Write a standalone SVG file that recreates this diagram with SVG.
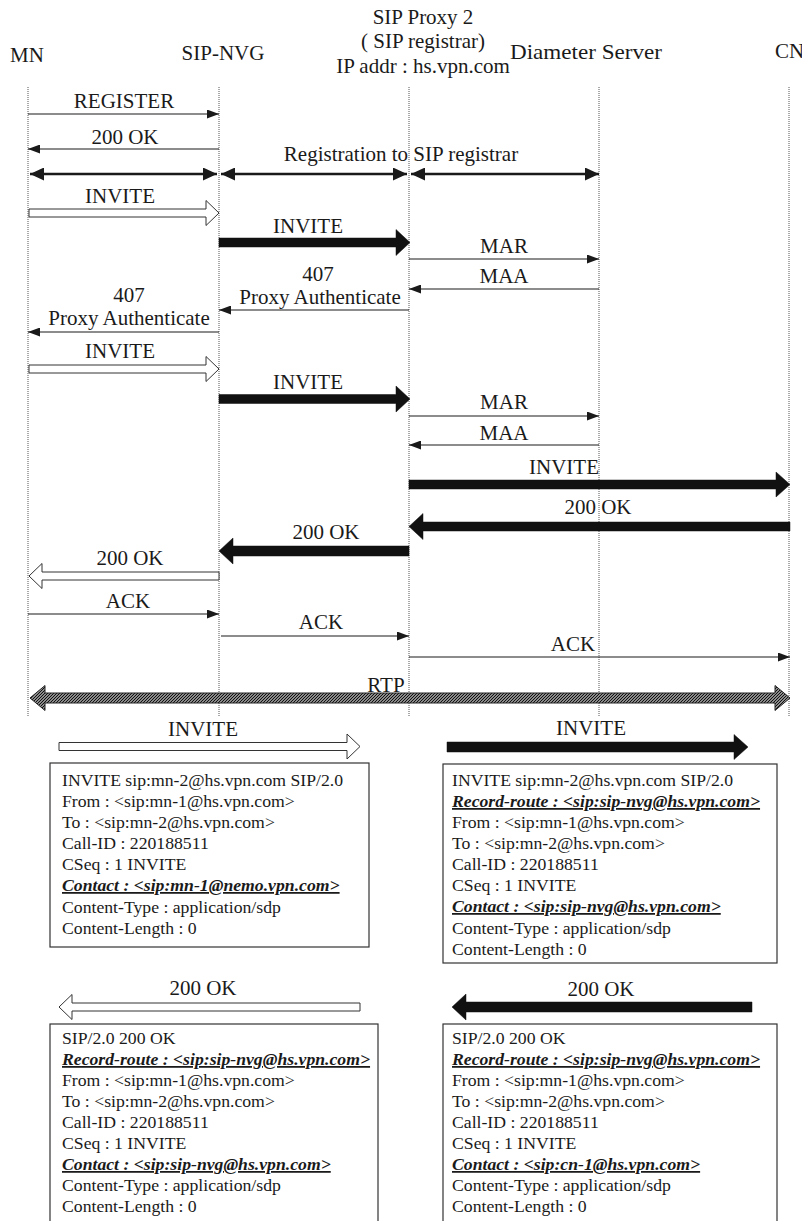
<svg xmlns="http://www.w3.org/2000/svg" width="802" height="1221" viewBox="0 0 802 1221">
  <defs>
    <style>
      text { font-family: "Liberation Serif", "Times New Roman", serif; fill: #1a1a1a; }
      .hdr { font-size: 21px; }
      .lbl { font-size: 21px; text-anchor: middle; }
      .box-t { font-size: 17.7px; }
      .emph { font-weight: bold; font-style: italic; text-decoration: underline; }
      .life { stroke: #555; stroke-width: 1; stroke-dasharray: 1 1; fill: none; }
      .thin { stroke: #1a1a1a; stroke-width: 1.2; fill: none; }
      .reg { stroke: #1a1a1a; stroke-width: 2.6; fill: none; }
      .hollow { fill: #fff; stroke: #333; stroke-width: 1; }
      .solid { fill: #111; stroke: #111; stroke-width: 0.5; }
      .frame { fill: #fff; stroke: #333; stroke-width: 1.2; }
    </style>
    <marker id="head-thin" markerUnits="userSpaceOnUse" markerWidth="12" markerHeight="9" refX="12" refY="4.5" orient="auto">
      <path d="M0,0 L12,4.5 L0,9 Z" fill="#1a1a1a"/>
    </marker>
    <marker id="head-reg" markerUnits="userSpaceOnUse" markerWidth="14" markerHeight="13" refX="14" refY="6.5" orient="auto-start-reverse">
      <path d="M0,0 L14,6.5 L0,13 Z" fill="#1a1a1a"/>
    </marker>
    <pattern id="hatch" patternUnits="userSpaceOnUse" width="3" height="3">
      <rect width="3" height="3" fill="#fff"/>
      <path d="M-1,1 L1,-1 M0,3 L3,0 M2,4 L4,2" stroke="#111" stroke-width="1.4"/>
    </pattern>
  </defs>

  <!-- participants -->
  <g id="mn"><text class="hdr" x="10" y="62">MN</text></g>
  <g id="sip-nvg"><text class="hdr" x="223" y="60" text-anchor="middle">SIP-NVG</text></g>
  <g id="sip-proxy">
    <text class="hdr" x="423" y="24" text-anchor="middle">SIP Proxy 2</text>
    <text class="hdr" x="423" y="48" text-anchor="middle">( SIP registrar)</text>
    <text class="hdr" x="423" y="73" text-anchor="middle">IP addr : hs.vpn.com</text>
  </g>
  <g id="diameter"><text class="hdr" x="510" y="59" textLength="152" lengthAdjust="spacingAndGlyphs">Diameter Server</text></g>
  <g id="cn"><text class="hdr" x="775" y="58">CN</text></g>

  <!-- lifelines -->
  <g id="lifelines">
    <line class="life" x1="28" y1="87" x2="28" y2="717"/>
    <line class="life" x1="219" y1="87" x2="219" y2="717"/>
    <line class="life" x1="409" y1="87" x2="409" y2="717"/>
    <line class="life" x1="599" y1="87" x2="599" y2="717"/>
    <line class="life" x1="789" y1="87" x2="789" y2="717"/>
  </g>

  <!-- message connectors -->
  <g id="connectors">
    <line class="thin" x1="28" y1="114" x2="219" y2="114" marker-end="url(#head-thin)"/>
    <line class="thin" x1="219" y1="149" x2="28" y2="149" marker-end="url(#head-thin)"/>

    <line class="reg" x1="30" y1="174" x2="217" y2="174" marker-start="url(#head-reg)" marker-end="url(#head-reg)"/>
    <line class="reg" x1="221" y1="174" x2="407" y2="174" marker-start="url(#head-reg)" marker-end="url(#head-reg)"/>
    <line class="reg" x1="411" y1="174" x2="599" y2="174" marker-start="url(#head-reg)" marker-end="url(#head-reg)"/>

    <polygon class="hollow" points="29,209 206,209 206,200.5 219,213 206,225.5 206,217 29,217"/>
    <polygon class="solid" points="219,238 396,238 396,229.5 410,242.5 396,255.5 396,247 219,247"/>

    <line class="thin" x1="409" y1="259" x2="599" y2="259" marker-end="url(#head-thin)"/>
    <line class="thin" x1="599" y1="289" x2="409" y2="289" marker-end="url(#head-thin)"/>
    <line class="thin" x1="409" y1="310" x2="219" y2="310" marker-end="url(#head-thin)"/>
    <line class="thin" x1="219" y1="332" x2="28" y2="332" marker-end="url(#head-thin)"/>

    <polygon class="hollow" points="29,365 206,365 206,356.5 219,369 206,381.5 206,373 29,373"/>
    <polygon class="solid" points="219,394.5 396,394.5 396,386 410,399 396,412 396,403.5 219,403.5"/>

    <line class="thin" x1="409" y1="416" x2="599" y2="416" marker-end="url(#head-thin)"/>
    <line class="thin" x1="599" y1="445" x2="409" y2="445" marker-end="url(#head-thin)"/>

    <polygon class="solid" points="409,480 776,480 776,472 790,484.5 776,497 776,489 409,489"/>
    <polygon class="solid" points="790,522 423,522 423,513.5 409,526.5 423,539.5 423,531 790,531"/>
    <polygon class="solid" points="409,546 233,546 233,538 219,551 233,564 233,556 409,556"/>
    <polygon class="hollow" points="219,572 42,572 42,563.5 29,576 42,588.5 42,580 219,580"/>

    <line class="thin" x1="28" y1="614" x2="219" y2="614" marker-end="url(#head-thin)"/>
    <line class="thin" x1="221" y1="636" x2="409" y2="636" marker-end="url(#head-thin)"/>
    <line class="thin" x1="409" y1="657" x2="790" y2="657" marker-end="url(#head-thin)"/>

    <polygon points="30,698 45,685.5 45,693 775,693 775,685.5 790,698 775,710.5 775,703 45,703 45,710.5" fill="url(#hatch)" stroke="#222" stroke-width="1"/>
  </g>

  <!-- message labels -->
  <g id="labels">
    <text class="lbl" x="124" y="108">REGISTER</text>
    <text class="lbl" x="125" y="144">200 OK</text>
    <text class="lbl" x="401" y="161">Registration to SIP registrar</text>
    <text class="lbl" x="120" y="203">INVITE</text>
    <text class="lbl" x="308" y="233">INVITE</text>
    <text class="lbl" x="504" y="253">MAR</text>
    <text class="lbl" x="504" y="283">MAA</text>
    <text class="lbl" x="318" y="281">407</text>
    <text class="lbl" x="320" y="304">Proxy Authenticate</text>
    <text class="lbl" x="129" y="302">407</text>
    <text class="lbl" x="129" y="325">Proxy Authenticate</text>
    <text class="lbl" x="120" y="358">INVITE</text>
    <text class="lbl" x="308" y="389">INVITE</text>
    <text class="lbl" x="504" y="409">MAR</text>
    <text class="lbl" x="504" y="440">MAA</text>
    <text class="lbl" x="564" y="474">INVITE</text>
    <text class="lbl" x="598" y="514">200 OK</text>
    <text class="lbl" x="326" y="539">200 OK</text>
    <text class="lbl" x="130" y="565">200 OK</text>
    <text class="lbl" x="128" y="608">ACK</text>
    <text class="lbl" x="321" y="629">ACK</text>
    <text class="lbl" x="573" y="651">ACK</text>
    <text class="lbl" x="386" y="692">RTP</text>
  </g>

  <!-- message contents: INVITE from MN -->
  <g id="invite-mn">
    <text class="lbl" x="203" y="736">INVITE</text>
    <polygon class="hollow" points="59,742.5 347,742.5 347,734 360,746.5 347,759 347,750.5 59,750.5"/>
    <rect class="frame" x="50" y="763" width="319" height="184"/>
    <text class="box-t" x="62" y="786">INVITE sip:mn-2@hs.vpn.com SIP/2.0</text>
    <text class="box-t" x="62" y="807">From : &lt;sip:mn-1@hs.vpn.com&gt;</text>
    <text class="box-t" x="62" y="828">To : &lt;sip:mn-2@hs.vpn.com&gt;</text>
    <text class="box-t" x="62" y="849">Call-ID : 220188511</text>
    <text class="box-t" x="62" y="870">CSeq : 1 INVITE</text>
    <text class="box-t emph" x="62" y="891">Contact : &lt;sip:mn-1@nemo.vpn.com&gt;</text>
    <text class="box-t" x="62" y="913">Content-Type : application/sdp</text>
    <text class="box-t" x="62" y="934">Content-Length : 0</text>
  </g>

  <!-- message contents: INVITE from SIP-NVG -->
  <g id="invite-nvg">
    <text class="lbl" x="591" y="735">INVITE</text>
    <polygon class="solid" points="447,742 734,742 734,734.5 748,747 734,759.5 734,752 447,752"/>
    <rect class="frame" x="443" y="764" width="334" height="199"/>
    <text class="box-t" x="452" y="786">INVITE sip:mn-2@hs.vpn.com SIP/2.0</text>
    <text class="box-t emph" x="452" y="807">Record-route : &lt;sip:sip-nvg@hs.vpn.com&gt;</text>
    <text class="box-t" x="452" y="828">From : &lt;sip:mn-1@hs.vpn.com&gt;</text>
    <text class="box-t" x="452" y="849">To : &lt;sip:mn-2@hs.vpn.com&gt;</text>
    <text class="box-t" x="452" y="870">Call-ID : 220188511</text>
    <text class="box-t" x="452" y="891">CSeq : 1 INVITE</text>
    <text class="box-t emph" x="452" y="912">Contact : &lt;sip:sip-nvg@hs.vpn.com&gt;</text>
    <text class="box-t" x="452" y="934">Content-Type : application/sdp</text>
    <text class="box-t" x="452" y="955">Content-Length : 0</text>
  </g>

  <!-- message contents: 200 OK to MN -->
  <g id="ok-mn">
    <text class="lbl" x="203" y="995">200 OK</text>
    <polygon class="hollow" points="360,1003 72,1003 72,994.5 59,1007 72,1019.5 72,1011 360,1011"/>
    <rect class="frame" x="50" y="1024" width="328" height="210"/>
    <text class="box-t" x="62" y="1044">SIP/2.0 200 OK</text>
    <text class="box-t emph" x="62" y="1065">Record-route : &lt;sip:sip-nvg@hs.vpn.com&gt;</text>
    <text class="box-t" x="62" y="1086">From : &lt;sip:mn-1@hs.vpn.com&gt;</text>
    <text class="box-t" x="62" y="1107">To : &lt;sip:mn-2@hs.vpn.com&gt;</text>
    <text class="box-t" x="62" y="1128">Call-ID : 220188511</text>
    <text class="box-t" x="62" y="1149">CSeq : 1 INVITE</text>
    <text class="box-t emph" x="62" y="1170">Contact : &lt;sip:sip-nvg@hs.vpn.com&gt;</text>
    <text class="box-t" x="62" y="1191">Content-Type : application/sdp</text>
    <text class="box-t" x="62" y="1212">Content-Length : 0</text>
  </g>

  <!-- message contents: 200 OK from CN -->
  <g id="ok-cn">
    <text class="lbl" x="601" y="996">200 OK</text>
    <polygon class="solid" points="752,1002 466,1002 466,994 452,1007 466,1020 466,1012 752,1012"/>
    <rect class="frame" x="443" y="1024" width="334" height="210"/>
    <text class="box-t" x="452" y="1044">SIP/2.0 200 OK</text>
    <text class="box-t emph" x="452" y="1065">Record-route : &lt;sip:sip-nvg@hs.vpn.com&gt;</text>
    <text class="box-t" x="452" y="1086">From : &lt;sip:mn-1@hs.vpn.com&gt;</text>
    <text class="box-t" x="452" y="1107">To : &lt;sip:mn-2@hs.vpn.com&gt;</text>
    <text class="box-t" x="452" y="1128">Call-ID : 220188511</text>
    <text class="box-t" x="452" y="1149">CSeq : 1 INVITE</text>
    <text class="box-t emph" x="452" y="1170">Contact : &lt;sip:cn-1@hs.vpn.com&gt;</text>
    <text class="box-t" x="452" y="1191">Content-Type : application/sdp</text>
    <text class="box-t" x="452" y="1212">Content-Length : 0</text>
  </g>
</svg>
